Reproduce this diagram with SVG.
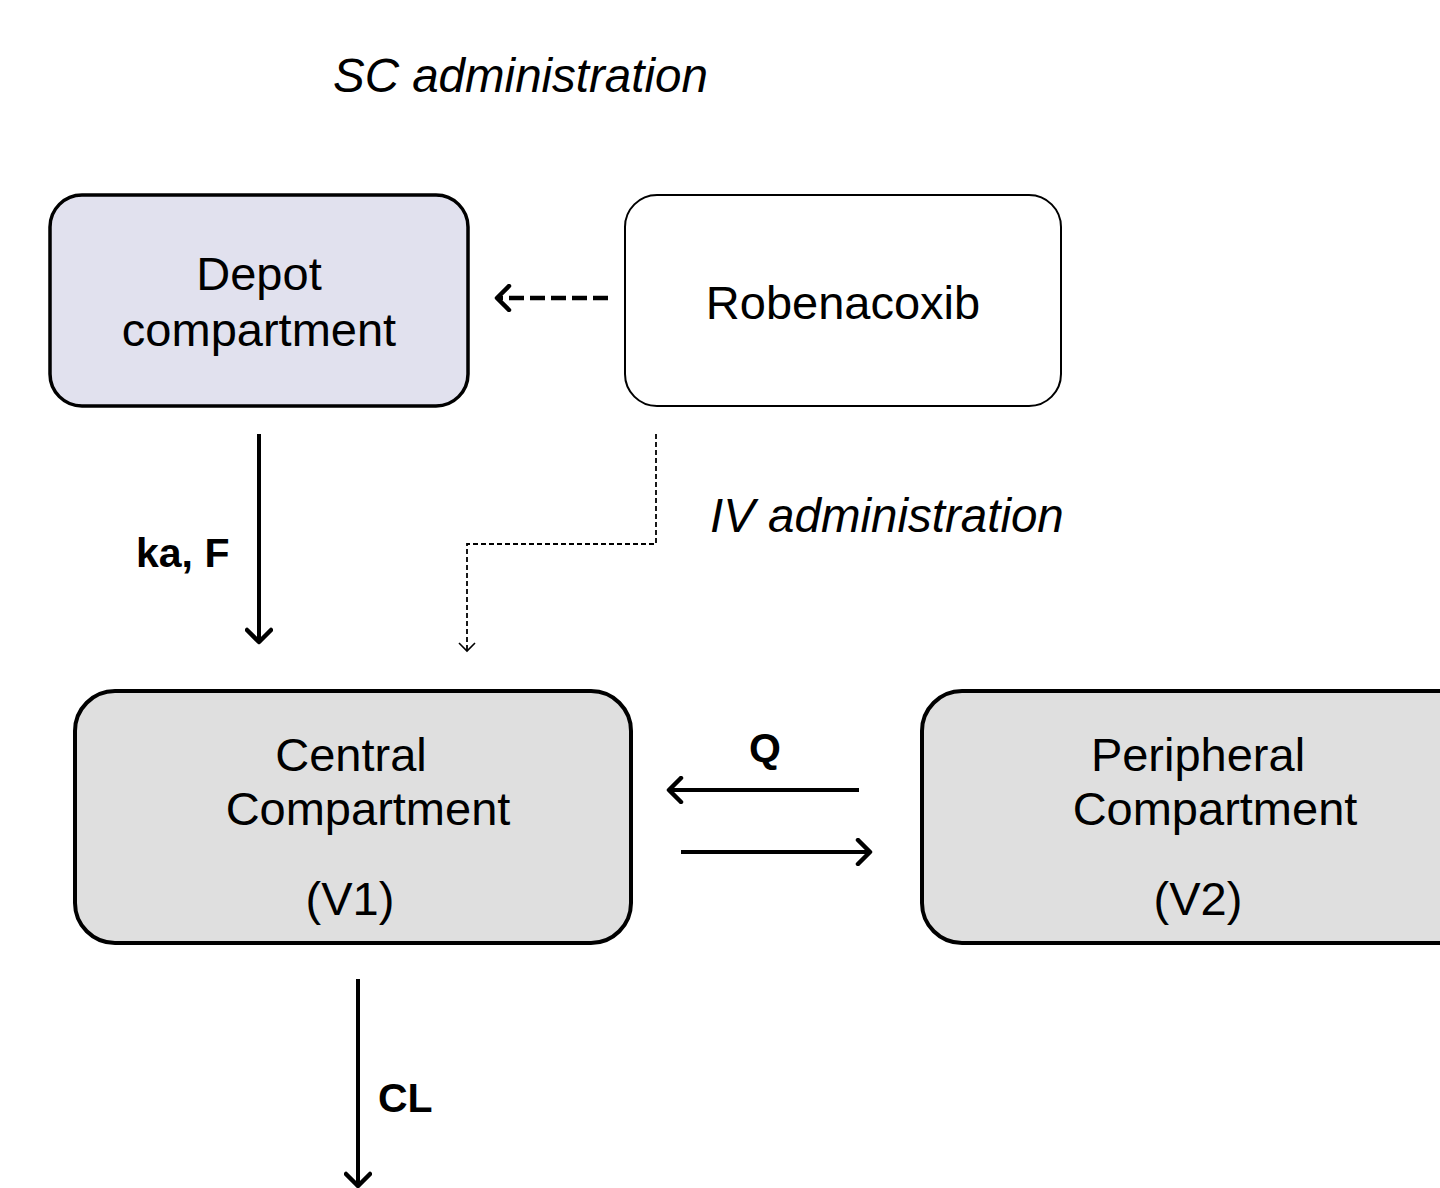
<svg xmlns="http://www.w3.org/2000/svg" width="1440" height="1188" viewBox="0 0 1440 1188">
<defs>
<style>
text{font-family:"Liberation Sans",Arial,sans-serif;fill:#000}
.big{font-size:47px}
.it{font-size:47.5px;font-style:italic}
.lbl{font-size:41px;font-weight:bold}
.conn{fill:none;stroke:#000}
</style>
<marker id="open" viewBox="0 0 28 28" refX="24" refY="14" markerWidth="28" markerHeight="28" markerUnits="userSpaceOnUse" orient="auto">
<path d="M12,2 L24,14 L12,26" fill="none" stroke="#000" stroke-width="4.5" stroke-linecap="round" stroke-linejoin="round"/>
</marker>
<marker id="openThin" viewBox="0 0 20 20" refX="10" refY="18" markerWidth="20" markerHeight="20" markerUnits="userSpaceOnUse" orient="0">
<path d="M2,10 L10,18 L18,10" fill="none" stroke="#000" stroke-width="1.6"/>
</marker>
</defs>
<rect width="1440" height="1188" fill="#fff"/>
<text class="it" x="333" y="92">SC administration</text>
<text class="it" x="710" y="532">IV administration</text>
<g id="depot">
<rect x="50" y="195" width="418" height="211" rx="32" fill="#e1e1ee" stroke="#000" stroke-width="3.5"/>
<text class="big" x="259" y="290" text-anchor="middle">Depot</text>
<text class="big" x="259" y="346" text-anchor="middle">compartment</text>
</g>
<g id="robenacoxib">
<rect x="625" y="195" width="436" height="211" rx="32" fill="#fff" stroke="#000" stroke-width="2"/>
<text class="big" x="843" y="319" text-anchor="middle">Robenacoxib</text>
</g>
<g id="central">
<rect x="75" y="691" width="556" height="252" rx="40" fill="#dfdfdf" stroke="#000" stroke-width="4"/>
<text class="big" x="351" y="771" text-anchor="middle">Central</text>
<text class="big" x="368" y="825" text-anchor="middle">Compartment</text>
<text class="big" x="350" y="915" text-anchor="middle">(V1)</text>
</g>
<g id="peripheral">
<rect x="922" y="691" width="560" height="252" rx="40" fill="#dfdfdf" stroke="#000" stroke-width="4"/>
<text class="big" x="1198" y="771" text-anchor="middle">Peripheral</text>
<text class="big" x="1215" y="825" text-anchor="middle">Compartment</text>
<text class="big" x="1198" y="915" text-anchor="middle">(V2)</text>
</g>
<g id="connectors">
<line class="conn" x1="608" y1="298" x2="497" y2="298" stroke-width="4.5" stroke-dasharray="15,6" marker-end="url(#open)"/>
<polyline class="conn" points="656,434 656,544 467,544 467,651" stroke-width="1.8" stroke-dasharray="5,3" marker-end="url(#openThin)"/>
<line class="conn" x1="259" y1="434" x2="259" y2="642" stroke-width="4" marker-end="url(#open)"/>
<line class="conn" x1="859" y1="790" x2="669" y2="790" stroke-width="4" marker-end="url(#open)"/>
<line class="conn" x1="681" y1="852" x2="870" y2="852" stroke-width="4" marker-end="url(#open)"/>
<line class="conn" x1="358" y1="979" x2="358" y2="1186" stroke-width="4" marker-end="url(#open)"/>
</g>
<text class="lbl" x="136" y="567">ka, F</text>
<text class="lbl" x="765" y="762" text-anchor="middle">Q</text>
<text class="lbl" x="378" y="1112">CL</text>
</svg>
